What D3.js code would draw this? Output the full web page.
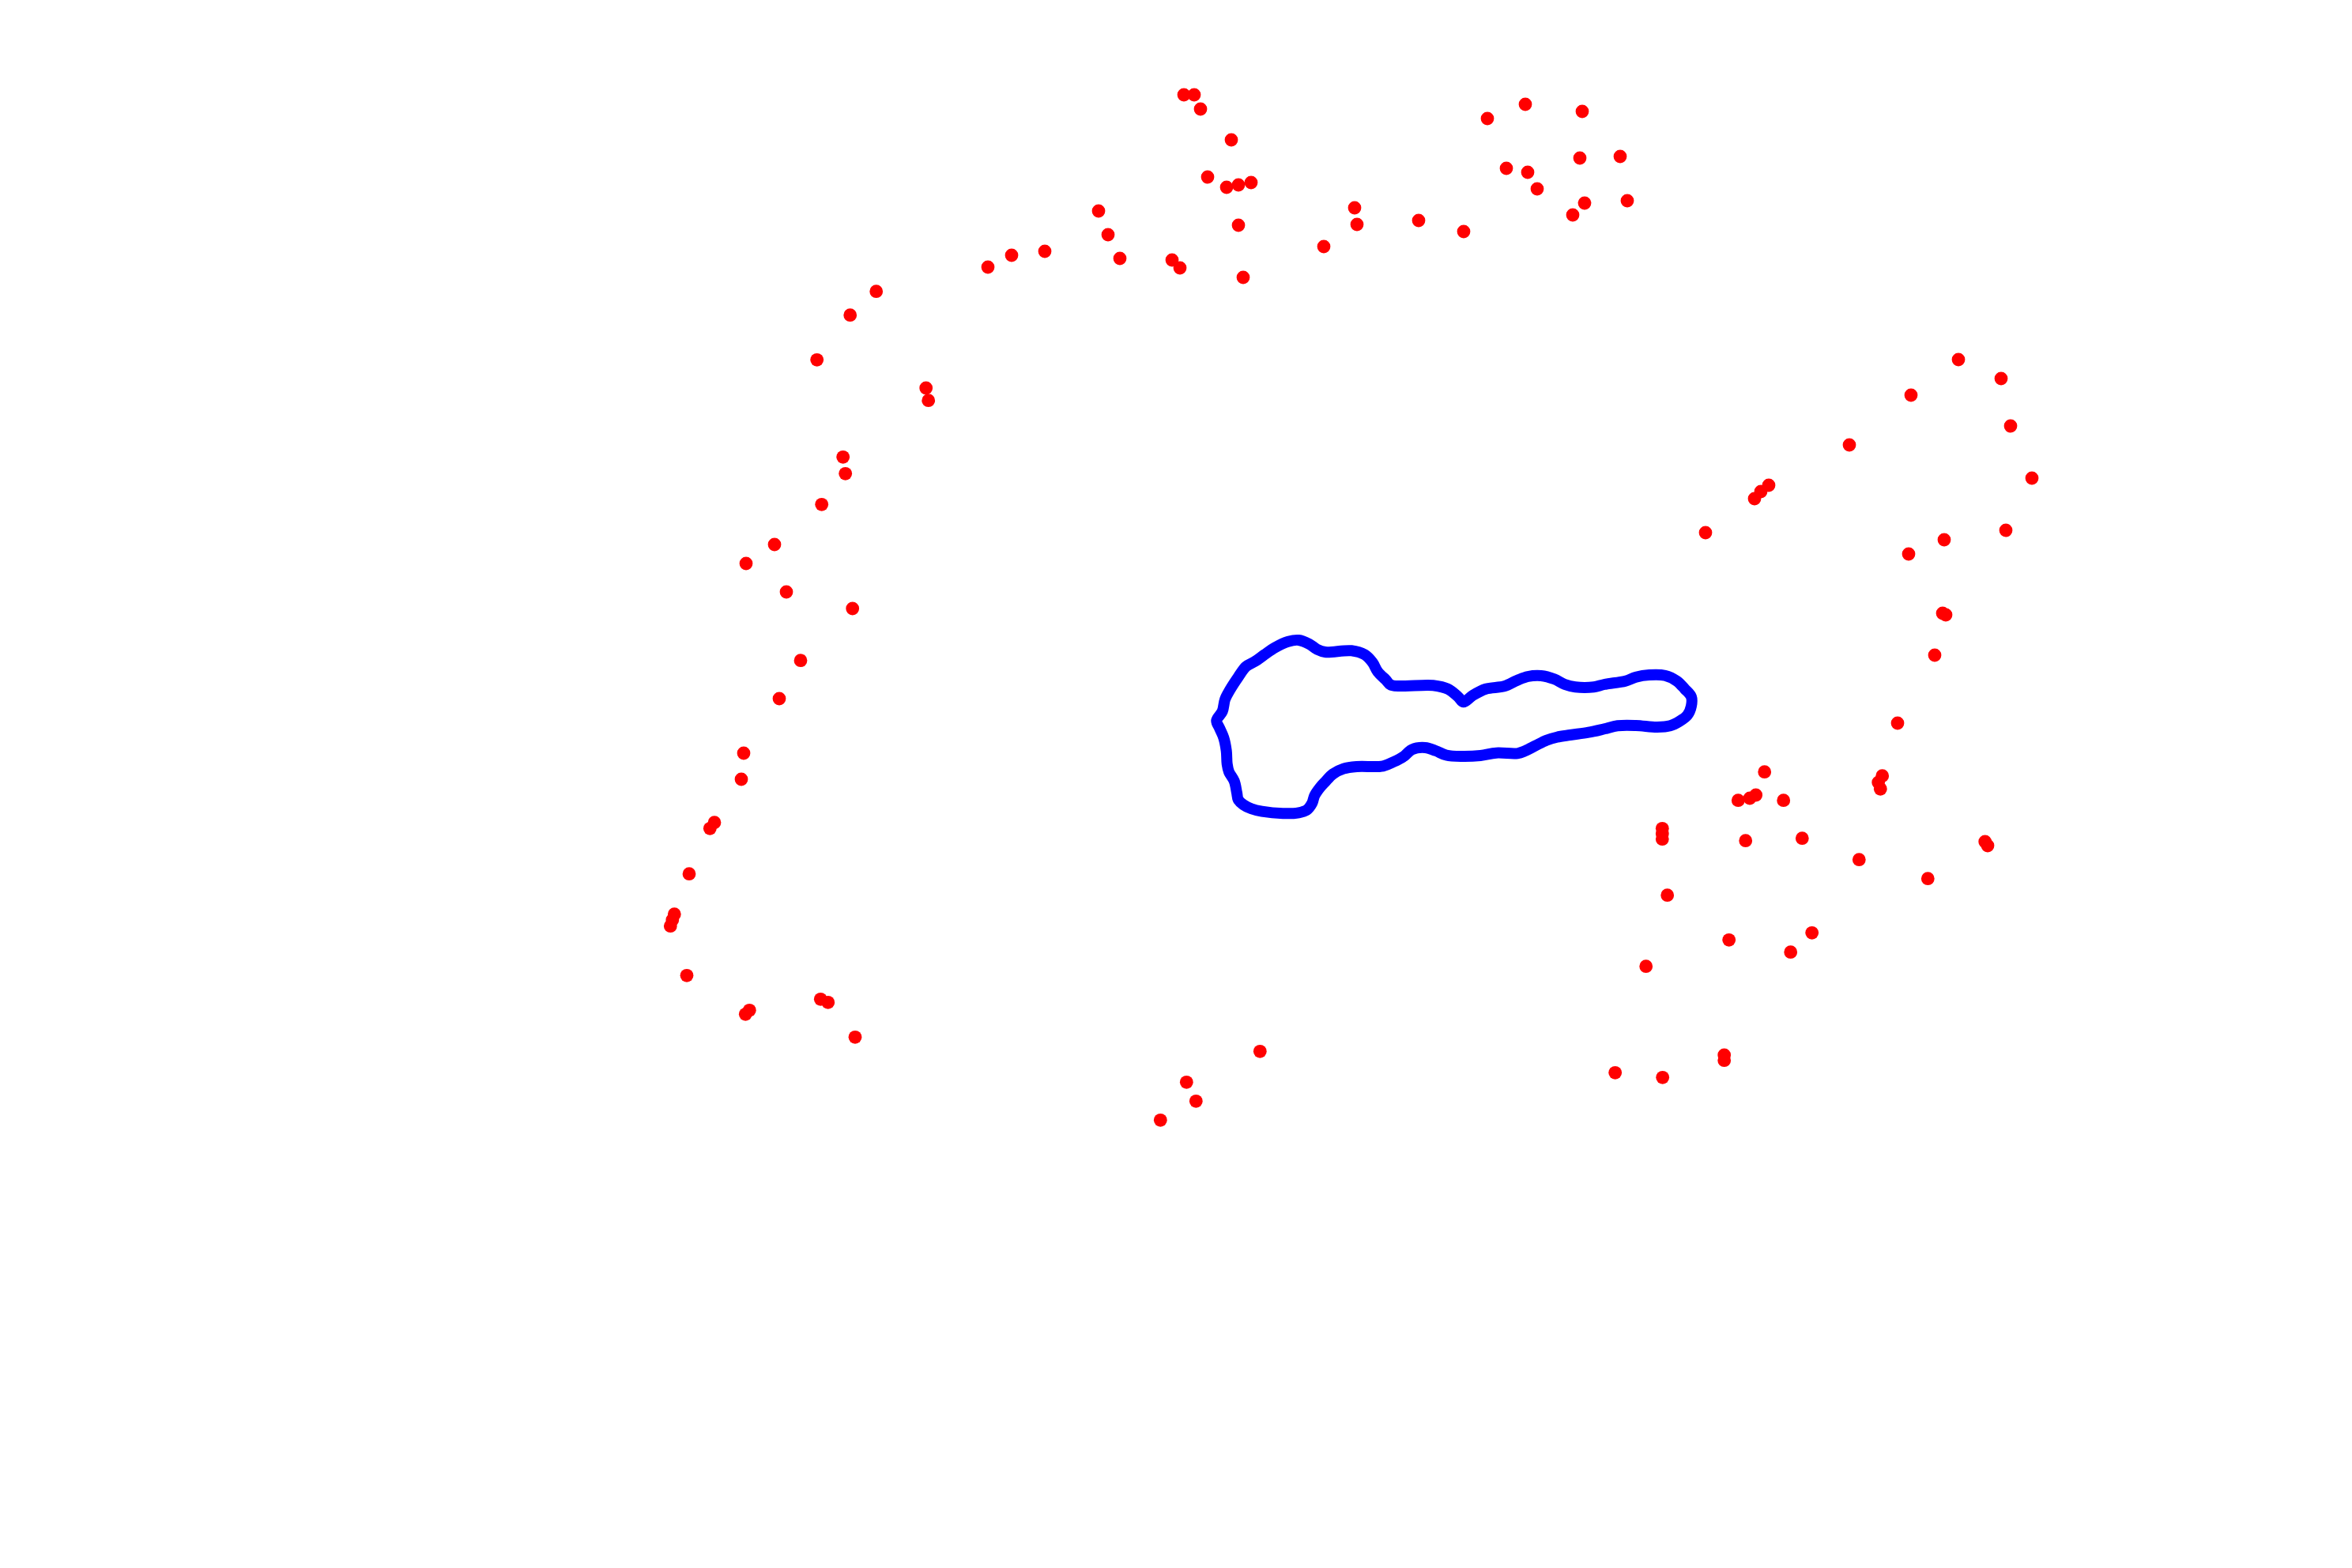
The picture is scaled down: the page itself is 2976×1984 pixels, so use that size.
<!DOCTYPE html>
<html>
<head>
<meta charset="utf-8">
<script src="https://cdn.jsdelivr.net/npm/d3@7"></script>
<style>
  html, body { margin: 0; padding: 0; background: #ffffff; }
  svg { display: block; }
</style>
</head>
<body>
<script>
// ---- DATA (plot units) ----
const pointX = [
  1108.7,1075.7,1033.7,1171.7,1174.7,1066.7,1069.7,1039.7,980,944,995,1078.7,
  1013,986,941,938,898.3,904,872,853.3,850.8,848.3,869,943.3,948.3,1038.3,1047.7,1082,
  1594.3,1501.3,1513.3,1468.3,
  1498,1511,1519,1558,1528,1552,1567,1583,1390,1402,1417,1483,1493,1567,1573,1675,1250,1280,1322,
  1714,1717,1795,1852,1882,1930,2002,1906,1933,1945,1999,2050,2005,2059,1990,
  2478,2532,2418,2544,2340,2571,2220,2228,2238,2158,2538,2460,2415,2458,2462,2448,2401,
  2232.7,2199.3,2214,2221.7,2256.7,2381.7,2376.7,2379.3,2103.3,2103.3,2103.3,2208.7,2280.3,
  2511.7,2515,2352.3,2439.3,2109.7,2187.7,2292.7,2265.7,2082.7,2181.7,2181.7,2043.7,2103.7
];
const pointY = [
  368.7,398.7,455.3,491,506.7,578.3,599.3,638.3,689,713,749,770,
  835.7,884,953,986,1048.3,1040.7,1105.7,1156.7,1164,1171.7,1234.3,1283.3,1278.3,1264.3,1268.3,1312.3,
  1330.3,1369.3,1393.3,1417.3,
  120,120,138,177,224,237,234,231,267,297,327,329,339,285,351,312,338,323,318,
  263,284,279,293,150,132,141,213,218,239,200,198,257,254,272,
  455,479,500,539,563,605,631,622,614,674,671,683,701,776,778,829,915,
  976.7,1012.7,1010,1006,1012.7,981.7,990,998.3,1048.3,1055,1061.7,1063.7,1060.7,
  1065,1070,1087.7,1111.7,1132.7,1189.3,1180.3,1204.7,1222.7,1335,1341.7,1357.3,1363.3
];

const loopX = [
  1539.3,1546.7,1550,1556,1566.7,1576.7,1588.3,1600,1613.3,1630,1643.3,1656.7,1666.7,1676.7,
  1710,1726.7,1736.7,1743.3,1753.3,1760,1813.3,1831.7,1845,1851.7,1863.3,1880,1903.3,1920,
  1933.3,1950,1966.7,1980,1993.3,2016.7,2030,2056.7,2070,2086.7,2106.7,2121.7,2131.7,2140,
  2140,2135,2125,2113.3,2096.7,2070,2046.7,2030,2010,1986.7,1970,1956.7,1943.3,1930,1920,
  1893.3,1873.3,1850,1830,1816.7,1803.3,1786.7,1776.7,1763.3,1750,1716.7,1700,1686.7,1676.7,
  1670,1663.3,1660,1653.3,1643.3,1623.3,1596.7,1583.3,1573.3,1566.7,1565,1561.7,1555,1552.7,
  1551.7,1548.3,1543.3
];
const loopY = [
  911.7,900,885,873.3,856.7,843.3,836.7,828.3,819.3,811.7,810,815,821.7,825,
  823.3,828.3,838.3,850,860,866.7,867.3,871.7,881.7,888.3,880,871.7,868.3,860.7,
  856,855,859.3,866,869.3,869.3,866,861.7,856.7,854,854.7,861.7,871.7,881.7,
  893.3,905,912.7,918.3,920,918,918.3,922.3,926.7,930,932.7,936.7,943.3,950,953.3,
  952.7,956,957,955.5,950,946,948.3,956.7,964,969.3,970,972.7,979.3,989.3,
  996.7,1006.7,1016.7,1025,1028.3,1029.3,1026.7,1023.3,1018.3,1011.7,1003.3,988.3,976.7,966.7,
  950,933.3,921.7
];

// ---- DRAWING ----
const W = 2976, H = 1984;
const x = d3.scaleLinear().domain([0, 2976]).range([0, W]);
const y = d3.scaleLinear().domain([0, 1984]).range([0, H]);

const svg = d3.select("body").append("svg")
  .attr("width", W).attr("height", H)
  .style("background", "#ffffff");

const points = pointX.map((v, i) => ({ x: v, y: pointY[i] }));
const loop = loopX.map((v, i) => ({ x: v, y: loopY[i] }));

svg.append("g").selectAll("circle")
  .data(points)
  .join("circle")
  .attr("cx", d => x(d.x))
  .attr("cy", d => y(d.y))
  .attr("r", 8.4)
  .attr("fill", "#ff0000");

const line = d3.line()
  .x(d => x(d.x))
  .y(d => y(d.y))
  .curve(d3.curveCatmullRomClosed.alpha(0.5));

svg.append("path")
  .datum(loop)
  .attr("d", line)
  .attr("fill", "none")
  .attr("stroke", "#0000ff")
  .attr("stroke-width", 14)
  .attr("stroke-linejoin", "round")
  .attr("stroke-linecap", "round");
</script>
</body>
</html>
